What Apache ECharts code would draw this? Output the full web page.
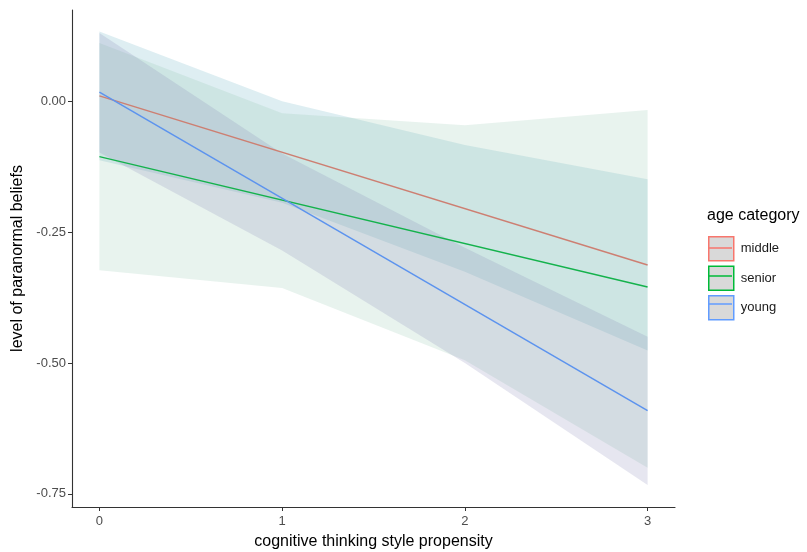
<!DOCTYPE html>
<html>
<head>
<meta charset="utf-8">
<script src="https://cdn.jsdelivr.net/npm/echarts@6.0.0/dist/echarts.min.js"></script>
<style>
  html, body { margin: 0; padding: 0; background: #fff; }
  #main { width: 807px; height: 552px; }
</style>
</head>
<body>
<div id="main"></div>
<script>
// groups and colours
var groups = ['middle', 'senior', 'young'];
var keyColors = ['#F8766D', '#00BA38', '#619CFF'];
var lineColors = ['#cd7f72', '#14b24c', '#5c93ee'];
var bandColors = ['rgba(90,170,190,0.2)', 'rgba(140,195,170,0.2)', 'rgba(130,130,180,0.2)'];

// fitted lines (x = 0 and x = 3)
var xEnds = [0, 3];
var middleFit = [0.010, -0.313];
var seniorFit = [-0.106, -0.355];
var youngFit = [0.017, -0.591];

// confidence ribbons, read at x = 0, 1, 2, 3
var xBand = [0, 1, 2, 3];
var middleLo = [-0.113, -0.194, -0.326, -0.476];
var middleHi = [0.133, 0.000, -0.084, -0.149];
var seniorLo = [-0.323, -0.357, -0.495, -0.700];
var seniorHi = [0.111, -0.023, -0.046, -0.017];
var youngLo = [-0.098, -0.285, -0.500, -0.733];
var youngHi = [0.130, -0.100, -0.280, -0.450];

// axis ticks
var xTicks = [0, 1, 2, 3];
var yTicks = [-0.75, -0.5, -0.25, 0];

var fits = [middleFit, seniorFit, youngFit];
var los = [middleLo, seniorLo, youngLo];
var his = [middleHi, seniorHi, youngHi];

var FONT = 'Liberation Sans, Arial, sans-serif';

function bandSeries(i) {
  var lo = los[i], hi = his[i];
  return {
    type: 'custom',
    name: groups[i] + ' band',
    silent: true,
    z: 1,
    data: xBand.map(function (x, k) { return [x, lo[k], hi[k]]; }),
    encode: { x: 0, y: [1, 2] },
    renderItem: function (params, api) {
      if (params.dataIndex !== 0) return;
      var pts = [];
      for (var k = 0; k < xBand.length; k++) pts.push(api.coord([xBand[k], hi[k]]));
      for (var j = xBand.length - 1; j >= 0; j--) pts.push(api.coord([xBand[j], lo[j]]));
      return { type: 'polygon', shape: { points: pts }, style: { fill: bandColors[i] } };
    }
  };
}

function lineSeries(i) {
  return {
    type: 'line',
    name: groups[i],
    z: 3,
    data: xEnds.map(function (x, k) { return [x, fits[i][k]]; }),
    showSymbol: false,
    silent: true,
    lineStyle: { color: lineColors[i], width: 1.5 },
    itemStyle: { color: lineColors[i] }
  };
}

var series = [];
for (var i = 0; i < groups.length; i++) series.push(bandSeries(i));
for (var i2 = 0; i2 < groups.length; i2++) series.push(lineSeries(i2));

var myChart = echarts.init(document.getElementById('main'));
var option = {
  animation: false,
  backgroundColor: '#fff',
  title: {
    text: 'age category',
    left: 702,
    top: 203,
    textStyle: { fontFamily: FONT, fontSize: 16, fontWeight: 'normal', color: '#000' }
  },
  legend: [
    {
      orient: 'vertical',
      left: 703,
      top: 231,
      itemWidth: 25,
      itemHeight: 24,
      itemGap: 4,
      icon: 'rect',
      selectedMode: false,
      data: groups.map(function (g, k) {
        return { name: g, itemStyle: { color: '#d9d9d9', borderColor: keyColors[k], borderWidth: 1.5 } };
      }),
      textStyle: { fontFamily: FONT, fontSize: 13, color: '#1a1a1a', padding: [0, 0, 0, 2] }
    },
    {
      orient: 'vertical',
      left: 703,
      top: 231,
      z: 6,
      itemWidth: 25,
      itemHeight: 24,
      itemGap: 4,
      icon: 'path://M0,0h0.01v0.01zM25,24h-0.01v-0.01zM1,11.25h23v1.5h-23z',
      selectedMode: false,
      data: groups.map(function (g, k) {
        return { name: g, itemStyle: { color: keyColors[k], borderWidth: 0 } };
      }),
      textStyle: { fontFamily: FONT, fontSize: 13, color: 'rgba(0,0,0,0)', padding: [0, 0, 0, 2] }
    }
  ],
  grid: { left: 72, right: 132, top: 10, bottom: 45, containLabel: false, outerBoundsMode: 'none' },
  xAxis: {
    type: 'value',
    min: -0.15,
    max: 3.15,
    name: 'cognitive thinking style propensity',
    nameLocation: 'middle',
    nameGap: 27,
    nameTextStyle: { fontFamily: FONT, fontSize: 16, color: '#000' },
    splitLine: { show: false },
    axisLine: { show: true, onZero: false, lineStyle: { color: '#333', width: 1.1 } },
    axisTick: { show: true, length: 4, lineStyle: { color: '#333' }, customValues: xTicks },
    axisLabel: {
      customValues: xTicks,
      fontFamily: FONT, fontSize: 13, color: '#4d4d4d', margin: 8,
      formatter: function (v) { return String(v); }
    }
  },
  yAxis: {
    type: 'value',
    min: -0.775,
    max: 0.174,
    name: 'level of paranormal beliefs',
    nameLocation: 'middle',
    nameGap: 45,
    nameTextStyle: { fontFamily: FONT, fontSize: 16, color: '#000' },
    splitLine: { show: false },
    axisLine: { show: true, onZero: false, lineStyle: { color: '#333', width: 1.1 } },
    axisTick: { show: true, length: 4, lineStyle: { color: '#333' }, customValues: yTicks },
    axisLabel: {
      customValues: yTicks,
      fontFamily: FONT, fontSize: 13, color: '#4d4d4d', margin: 6,
      formatter: function (v) { return v.toFixed(2); }
    }
  },
  series: series
};
myChart.setOption(option);
</script>
</body>
</html>
